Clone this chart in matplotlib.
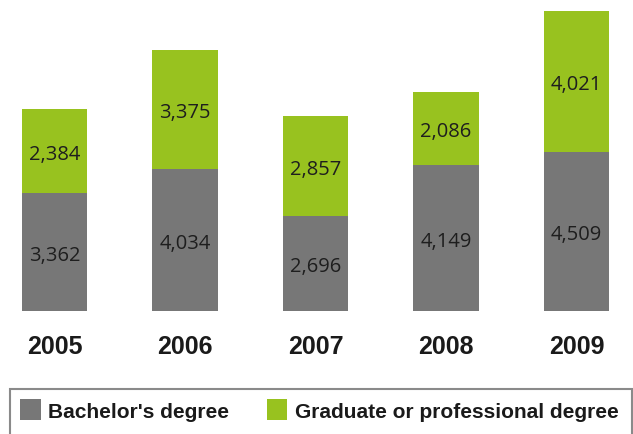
import matplotlib.pyplot as plt
import matplotlib.transforms as mtransforms
from matplotlib.patches import Patch, Rectangle

# data
years = ['2005', '2006', '2007', '2008', '2009']
bachelor = [3362, 4034, 2696, 4149, 4509]
graduate = [2384, 3375, 2857, 2086, 4021]

gray = '#777777'
green = '#98c21f'

fig = plt.figure(figsize=(6.33, 4.35), dpi=100)
ax = fig.add_axes([0, 123 / 435, 1, 312 / 435])

x = list(range(len(years)))
ax.bar(x, bachelor, width=0.5, color=gray)
ax.bar(x, graduate, width=0.5, bottom=bachelor, color=green)

# value labels in the middle of each segment
for xi, b, g in zip(x, bachelor, graduate):
    ax.text(xi, b / 2 - 80, f'{b:,}', ha='center', va='center',
            fontsize=14.5, family='Open Sans', color='#1e1e1e')
    ax.text(xi, b + g / 2 - 80, f'{g:,}', ha='center', va='center',
            fontsize=14.5, family='Open Sans', color='#1e1e1e')

# year labels below the bars
trans = mtransforms.blended_transform_factory(ax.transData, ax.transAxes)
for xi, yr in zip(x, years):
    ax.text(xi, -42 / 312, yr, transform=trans, ha='center', va='baseline',
            fontsize=18, fontweight='bold', family='Liberation Sans',
            color='#1a1a1a')

ax.set_xlim(-0.4176, 4.433)
ax.set_ylim(0, 8864)
ax.axis('off')

# legend box that runs off the right and bottom edge
fig.patches.append(Rectangle((10 / 633, -0.05), 622 / 633, 1 - 390 / 435 + 0.05,
                             transform=fig.transFigure, fill=False,
                             edgecolor='#8a8a8a', linewidth=1.5))

handles = [Patch(facecolor=gray, label="Bachelor's degree"),
           Patch(facecolor=green, label='Graduate or professional degree')]
fig.legend(handles=handles, ncol=2, loc='upper left',
           bbox_to_anchor=(20 / 633, 1 - 400 / 435), frameon=False,
           borderpad=0, borderaxespad=0,
           prop={'family': 'Liberation Sans', 'weight': 'bold', 'size': 15},
           handlelength=1.0, handleheight=1.2, handletextpad=0.35,
           columnspacing=1.8, labelcolor='#1a1a1a')

fig.savefig('out.png', dpi=100, facecolor='white')
